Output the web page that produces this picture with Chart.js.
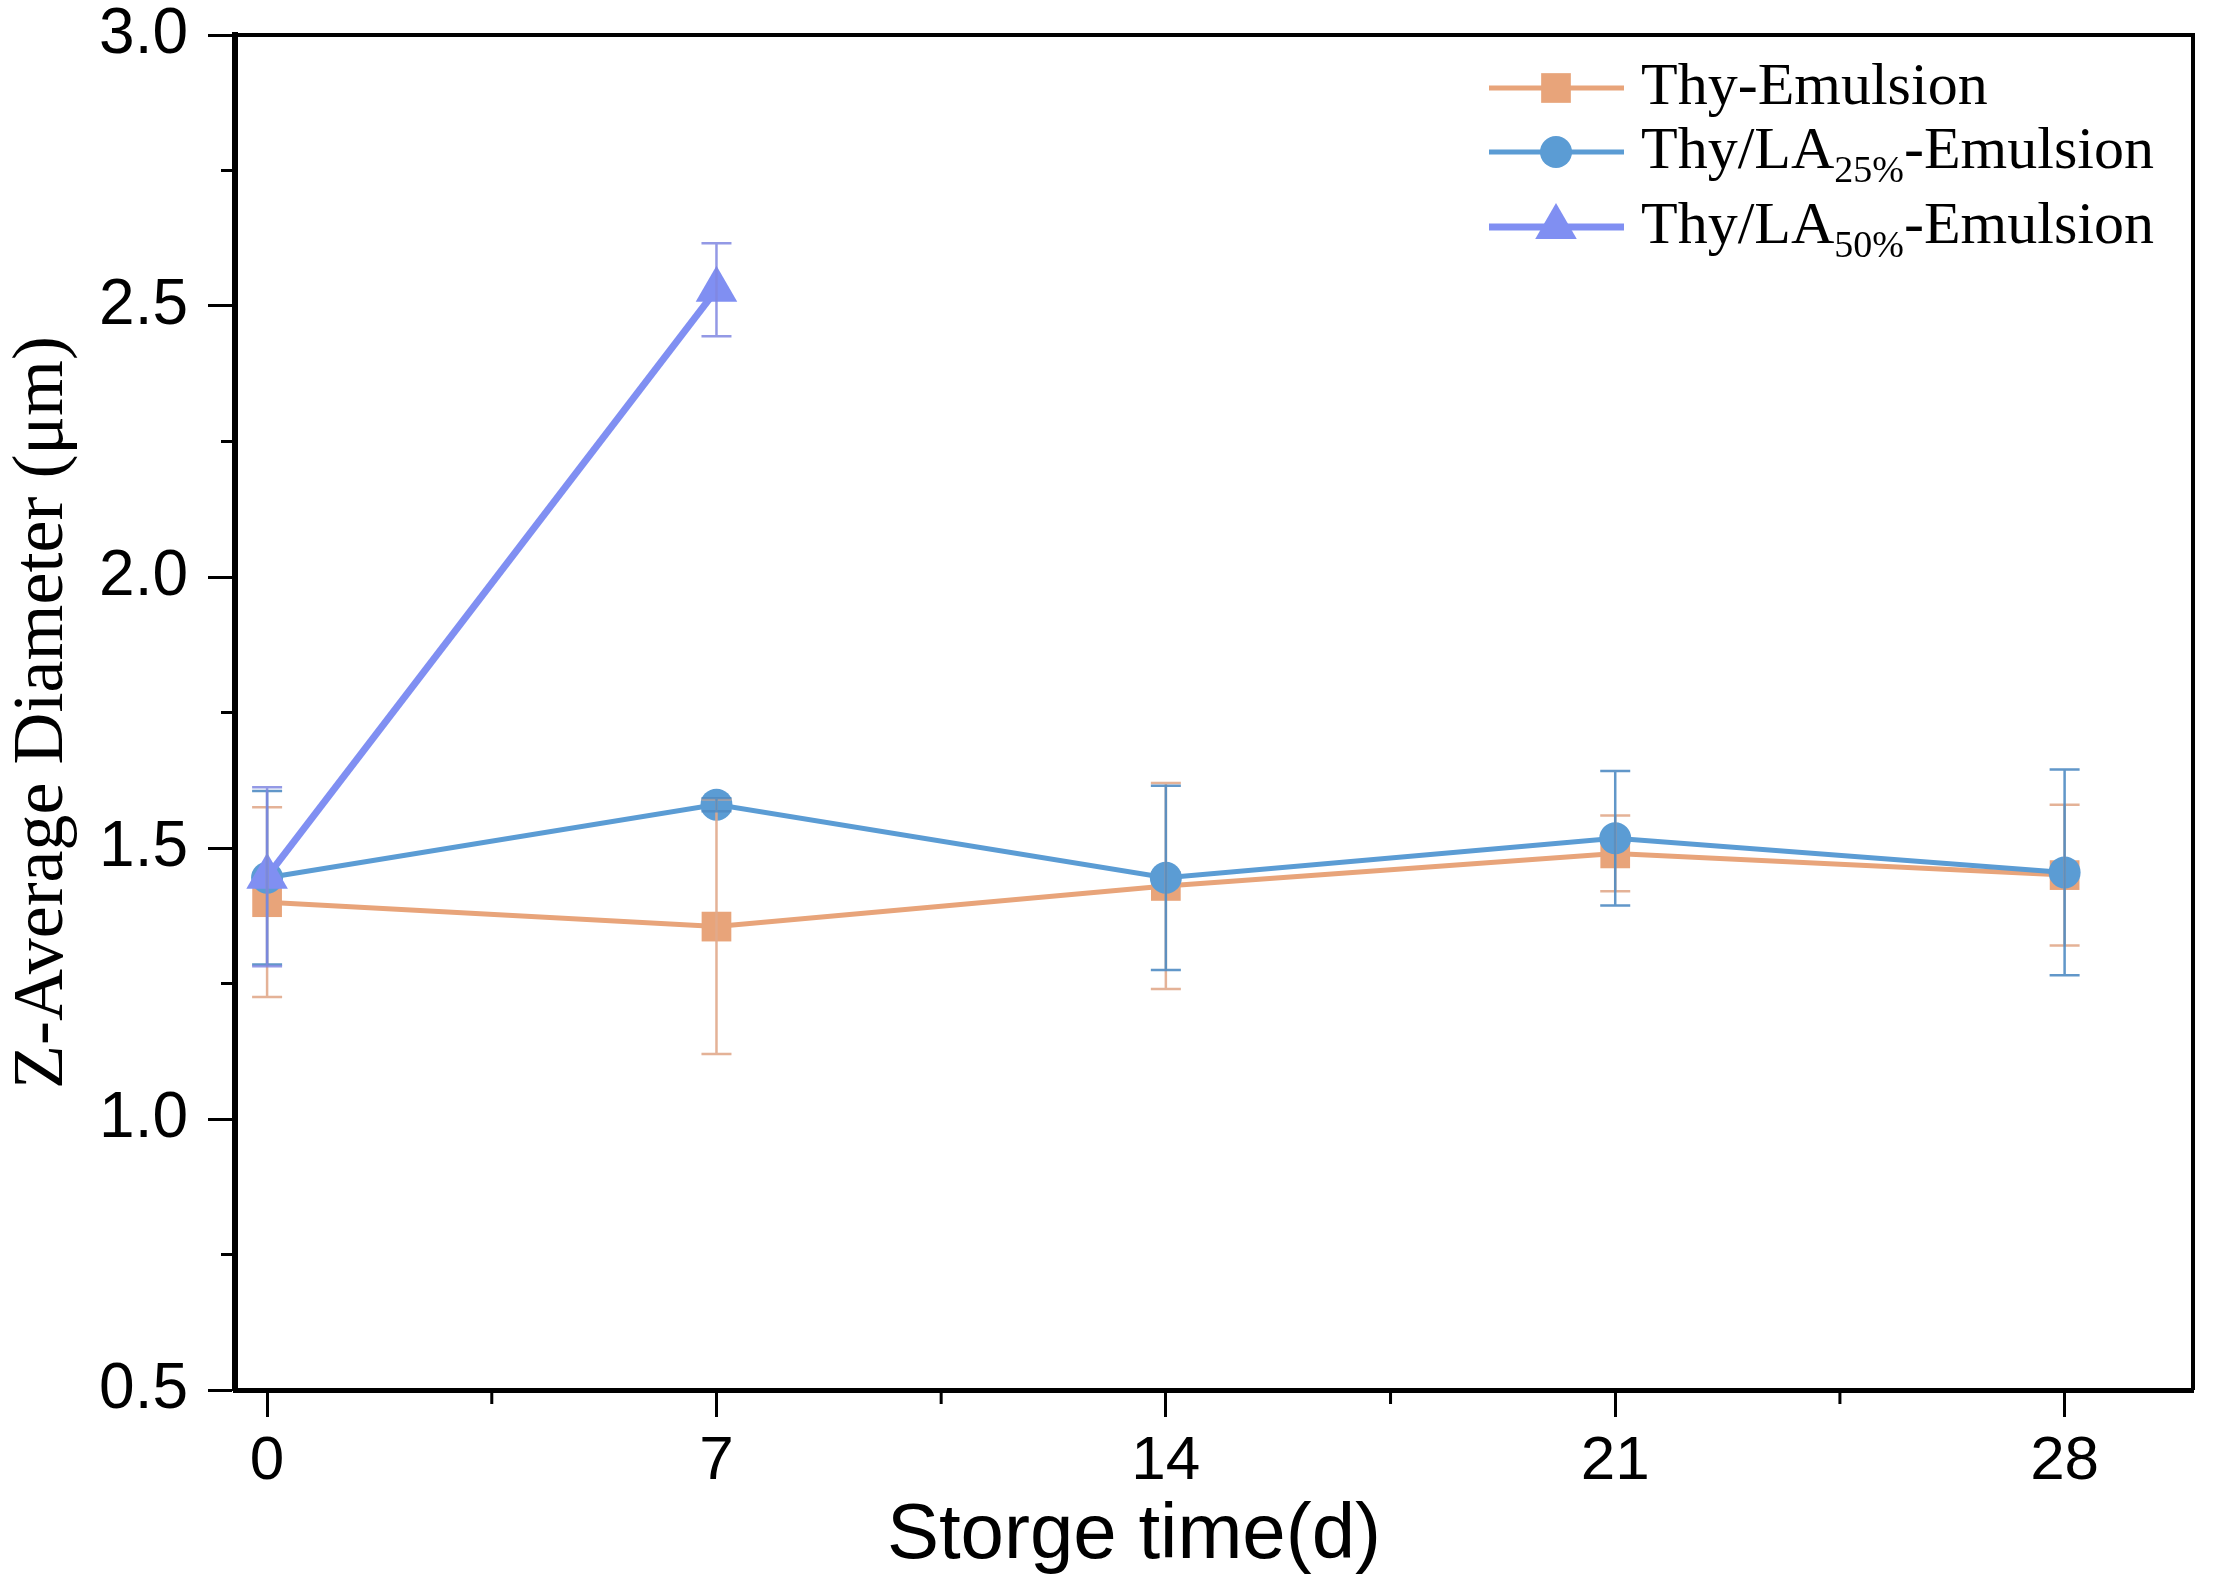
<!DOCTYPE html>
<html>
<head>
<meta charset="utf-8">
<script src="https://cdn.jsdelivr.net/npm/chart.js@4.4.1/dist/chart.umd.min.js"></script>
<style>
  html, body { margin: 0; padding: 0; background: #fff; }
</style>
</head>
<body>
<canvas id="zChart" width="2217" height="1576"></canvas>
<script>
// storage days and tick marks
const days = [0, 7, 14, 21, 28];
const xMinorTicks = [3.5, 10.5, 17.5, 24.5];
const yMinorTicks = [0.75, 1.25, 1.75, 2.25, 2.75];
const xTitle = 'Storge time(d)';
const yTitle = 'Z-Average Diameter (μm)';

// Thy-Emulsion
const thyMean = [1.40, 1.355, 1.43, 1.49, 1.45];
const thyErr  = [0.175, 0.235, 0.19, 0.07, 0.13];
// Thy/LA25%-Emulsion
const la25Mean = [1.445, 1.58, 1.445, 1.518, 1.455];
const la25Err  = [0.16, 0.012, 0.17, 0.124, 0.19];
// Thy/LA50%-Emulsion (only measured to day 7)
const la50Days = [0, 7];
const la50Mean = [1.447, 2.53];
const la50Err  = [0.165, 0.086];

const orange = 'rgb(232,164,122)';
const blue = 'rgb(91,156,212)';
const purple = 'rgb(128,143,242)';

function toPoints(xs, ys){
  return xs.map((x, i) => ({x: x, y: ys[i]}));
}

// error bars, drawn through the chart scales
const errorBars = {
  id: 'errorBars',
  afterDatasetsDraw(chart){
    const ctx = chart.ctx;
    const xs = chart.scales.x, ys = chart.scales.y;
    const sets = chart.data.datasets.slice().reverse();
    sets.forEach(ds => {
      ctx.save();
      ctx.strokeStyle = ds.errColor;
      ctx.lineWidth = 2.5;
      ds.data.forEach((p, i) => {
        const e = ds.errors[i];
        const px = xs.getPixelForValue(p.x);
        const top = ys.getPixelForValue(p.y + e);
        const bot = ys.getPixelForValue(p.y - e);
        ctx.beginPath();
        ctx.moveTo(px, top); ctx.lineTo(px, bot);
        ctx.moveTo(px - 15, top); ctx.lineTo(px + 15, top);
        ctx.moveTo(px - 15, bot); ctx.lineTo(px + 15, bot);
        ctx.stroke();
      });
      ctx.restore();
    });
  }
};

// top/right frame, minor ticks, x title
const frame = {
  id: 'frame',
  afterDraw(chart){
    const ctx = chart.ctx;
    const a = chart.chartArea;
    ctx.save();
    ctx.strokeStyle = '#000';
    ctx.lineWidth = 4;
    ctx.beginPath();
    ctx.moveTo(a.left, a.top); ctx.lineTo(a.right, a.top); ctx.lineTo(a.right, a.bottom);
    ctx.stroke();
    ctx.lineWidth = 3;
    ctx.beginPath();
    xMinorTicks.forEach(v => {
      const px = chart.scales.x.getPixelForValue(v);
      ctx.moveTo(px, a.bottom); ctx.lineTo(px, a.bottom + 14);
    });
    yMinorTicks.forEach(v => {
      const py = chart.scales.y.getPixelForValue(v);
      ctx.moveTo(a.left - 14, py); ctx.lineTo(a.left, py);
    });
    ctx.stroke();
    // x axis title sits a bit left of centre in the original
    ctx.fillStyle = '#000';
    ctx.font = '78px "Liberation Sans"';
    ctx.textAlign = 'center';
    ctx.textBaseline = 'alphabetic';
    ctx.fillText(xTitle, (a.left + a.right) / 2 - 80, a.bottom + 168);
    ctx.restore();
  }
};

// legend with subscripts
const legendRows = [
  {label: 'Thy-Emulsion', parts: [['Thy-Emulsion', false]]},
  {label: 'Thy/LA25%-Emulsion', parts: [['Thy/LA', false], ['25%', true], ['-Emulsion', false]]},
  {label: 'Thy/LA50%-Emulsion', parts: [['Thy/LA', false], ['50%', true], ['-Emulsion', false]]}
];

function marker(ctx, style, x, y, r){
  ctx.beginPath();
  if(style === 'rect'){
    const s = Math.SQRT1_2 * r;
    ctx.rect(x - s, y - s, 2 * s, 2 * s);
  }else if(style === 'triangle'){
    ctx.moveTo(x, y - r);
    ctx.lineTo(x + r * Math.sin(2 * Math.PI / 3), y - r * Math.cos(2 * Math.PI / 3));
    ctx.lineTo(x - r * Math.sin(2 * Math.PI / 3), y - r * Math.cos(2 * Math.PI / 3));
    ctx.closePath();
  }else{
    ctx.arc(x, y, r, 0, Math.PI * 2);
  }
  ctx.fill();
}

const customLegend = {
  id: 'customLegend',
  afterDraw(chart){
    const ctx = chart.ctx;
    const a = chart.chartArea;
    const x0 = a.right - 704;
    const rowY = [a.top + 53, a.top + 117, a.top + 192];
    ctx.save();
    legendRows.forEach((row, i) => {
      const ds = chart.data.datasets.find(d => d.label === row.label);
      const y = rowY[i];
      ctx.strokeStyle = ds.borderColor;
      ctx.fillStyle = ds.backgroundColor;
      ctx.lineWidth = ds.borderWidth;
      ctx.beginPath();
      ctx.moveTo(x0, y); ctx.lineTo(x0 + 135, y);
      ctx.stroke();
      marker(ctx, ds.pointStyle, x0 + 67, y, ds.pointRadius);
      let tx = x0 + 152;
      ctx.fillStyle = '#000';
      ctx.textBaseline = 'middle';
      row.parts.forEach(p => {
        if(p[1]){
          ctx.font = '38px "Liberation Serif"';
          ctx.fillText(p[0], tx, y + 20);
        }else{
          ctx.font = '60px "Liberation Serif"';
          ctx.fillText(p[0], tx, y);
        }
        tx += ctx.measureText(p[0]).width;
      });
    });
    ctx.restore();
  }
};

new Chart(document.getElementById('zChart'), {
  type: 'line',
  data: {
    datasets: [
      {
        label: 'Thy/LA50%-Emulsion',
        data: toPoints(la50Days, la50Mean),
        errors: la50Err,
        errColor: 'rgba(128,135,225,0.85)',
        borderColor: purple,
        backgroundColor: purple,
        borderWidth: 7,
        pointStyle: 'triangle',
        pointRadius: 24,
        pointBorderWidth: 0
      },
      {
        label: 'Thy/LA25%-Emulsion',
        data: toPoints(days, la25Mean),
        errors: la25Err,
        errColor: 'rgba(80,140,195,0.9)',
        borderColor: blue,
        backgroundColor: blue,
        borderWidth: 5,
        pointStyle: 'circle',
        pointRadius: 16,
        pointBorderWidth: 0
      },
      {
        label: 'Thy-Emulsion',
        data: toPoints(days, thyMean),
        errors: thyErr,
        errColor: 'rgba(225,170,140,0.9)',
        borderColor: orange,
        backgroundColor: orange,
        borderWidth: 5,
        pointStyle: 'rect',
        pointRadius: 21,
        pointBorderWidth: 0
      }
    ]
  },
  options: {
    responsive: false,
    animation: false,
    devicePixelRatio: 1,
    layout: { padding: { top: 35, right: 18, left: 0, bottom: 0 } },
    plugins: { legend: { display: false }, tooltip: { enabled: false } },
    scales: {
      x: {
        type: 'linear',
        min: -0.5,
        max: 30,
        afterBuildTicks: s => { s.ticks = days.map(v => ({value: v})); },
        afterFit: s => { s.height = 186; s.paddingLeft = 0; s.paddingRight = 0; },
        ticks: { color: '#000', padding: 8, font: { family: 'Liberation Sans', size: 62 } },
        grid: { drawOnChartArea: false, drawTicks: true, tickLength: 27, tickWidth: 3, tickColor: '#000' },
        border: { display: true, color: '#000', width: 5 },
        title: { display: false, text: xTitle }
      },
      y: {
        min: 0.5,
        max: 3.0,
        afterFit: s => { s.width = 235; s.paddingTop = 0; s.paddingBottom = 0; },
        ticks: { stepSize: 0.5, color: '#000', padding: 20,
          font: { family: 'Liberation Sans', size: 64 },
          callback: v => v.toFixed(1) },
        grid: { drawOnChartArea: false, drawTicks: true, tickLength: 27, tickWidth: 3, tickColor: '#000' },
        border: { display: true, color: '#000', width: 6 },
        title: {
          display: true, text: yTitle, color: '#000',
          font: { family: 'Liberation Serif', size: 72 },
          padding: { top: 0, bottom: 0 }
        }
      }
    }
  },
  plugins: [errorBars, frame, customLegend]
});
</script>
</body>
</html>
